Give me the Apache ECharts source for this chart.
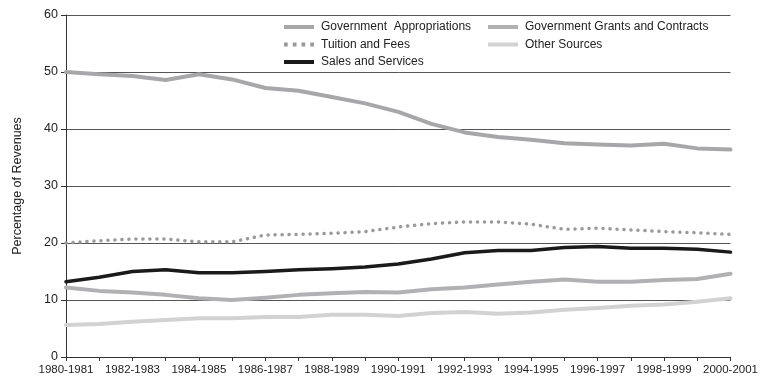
<!DOCTYPE html>
<html><head><meta charset="utf-8">
<script src="https://cdn.jsdelivr.net/npm/echarts@6/dist/echarts.min.js"></script>
<style>html,body{margin:0;padding:0;background:#fff}#c{width:761px;height:380px}</style>
</head><body><div id="c"></div>
<script>
const categories = ["1980-1981","1981-1982","1982-1983","1983-1984","1984-1985","1985-1986","1986-1987","1987-1988","1988-1989","1989-1990","1990-1991","1991-1992","1992-1993","1993-1994","1994-1995","1995-1996","1996-1997","1997-1998","1998-1999","1999-2000","2000-2001"];
const govAppropriations = [50.0,49.6,49.3,48.6,49.6,48.7,47.2,46.7,45.6,44.5,43.0,40.9,39.4,38.6,38.1,37.5,37.3,37.1,37.4,36.6,36.4];
const tuitionFees = [20.0,20.4,20.7,20.7,20.2,20.2,21.4,21.5,21.7,22.0,22.8,23.4,23.7,23.7,23.3,22.4,22.6,22.3,22.0,21.8,21.5];
const salesServices = [13.2,14.0,15.0,15.3,14.8,14.8,15.0,15.3,15.5,15.8,16.3,17.2,18.3,18.7,18.7,19.2,19.4,19.1,19.1,18.9,18.4];
const govGrants = [12.2,11.6,11.3,10.9,10.3,10.0,10.4,10.9,11.2,11.4,11.3,11.9,12.2,12.7,13.2,13.6,13.2,13.2,13.5,13.7,14.6];
const otherSources = [5.6,5.8,6.2,6.5,6.8,6.8,7.0,7.0,7.4,7.4,7.2,7.7,7.9,7.6,7.8,8.3,8.6,9.0,9.2,9.7,10.3];
const yTicks = [0,10,20,30,40,50,60];

const FONT = '"Liberation Sans", Arial, sans-serif';
const names = {
  app: "Government  Appropriations",
  grants: "Government Grants and Contracts",
  tuition: "Tuition and Fees",
  other: "Other Sources",
  sales: "Sales and Services"
};
const BAR = 'rect';
const DOTS = 'path://M0,0h3v3h-3zM7,0h3v3h-3zM14,0h3v3h-3zM21,0h3v3h-3z';
function line(name, data, color, width, extra) {
  return {
    name, type: 'line', data, symbol: 'none', smooth: false,
    lineStyle: Object.assign({ color, width, cap: 'round', join: 'round' }, extra || {}),
    itemStyle: { color }, emphasis: { disabled: true }
  };
}
const legendText = { fontFamily: FONT, fontSize: 12, color: '#222', padding: [0, 0, 0, 2] };
const chart = echarts.init(document.getElementById('c'), null, { renderer: 'canvas' });
chart.setOption({
  backgroundColor: '#ffffff',
  animation: false,
  textStyle: { fontFamily: FONT },
  grid: { left: 66, right: 26, top: 15, bottom: 23, containLabel: false },
  legend: [
    { data: [
        { name: names.app, icon: BAR, itemStyle: { color: '#a7a7a9' } },
        { name: names.tuition, icon: DOTS, itemStyle: { color: '#9a9a9c' } },
        { name: names.sales, icon: BAR, itemStyle: { color: '#1a1a1a' } }
      ], orient: 'vertical', left: 279, top: 16, symbolKeepAspect: false,
      itemWidth: 30, itemHeight: 4, itemGap: 5.5, selectedMode: false, textStyle: legendText },
    { data: [
        { name: names.grants, icon: BAR, itemStyle: { color: '#b1b1b3' } },
        { name: names.other, icon: BAR, itemStyle: { color: '#d2d2d2' } }
      ], orient: 'vertical', left: 483, top: 16, symbolKeepAspect: false,
      itemWidth: 30, itemHeight: 4, itemGap: 5.5, selectedMode: false, textStyle: legendText }
  ],
  xAxis: {
    type: 'category', data: categories, boundaryGap: false,
    axisLine: { lineStyle: { color: '#333', width: 1 } },
    axisTick: { show: true, interval: 0, length: 4, lineStyle: { color: '#333' } },
    axisLabel: { interval: 1, color: '#222', fontSize: 11.5, fontFamily: FONT, margin: 7, showMaxLabel: true },
    splitLine: { show: false }
  },
  yAxis: {
    type: 'value', min: yTicks[0], max: yTicks[yTicks.length - 1], interval: 10,
    name: 'Percentage of Revenues', nameLocation: 'middle', nameGap: 42, nameRotate: 90,
    nameTextStyle: { fontFamily: FONT, fontSize: 12.5, color: '#222' },
    axisLine: { show: true, lineStyle: { color: '#333', width: 1 } },
    axisTick: { show: true, length: 5, lineStyle: { color: '#333' } },
    axisLabel: { color: '#222', fontSize: 12.5, fontFamily: FONT, margin: 8 },
    splitLine: { show: true, lineStyle: { color: '#555', width: 1 } }
  },
  series: [
    line(names.app, govAppropriations, '#a7a7a9', 4),
    line(names.grants, govGrants, '#b1b1b3', 4),
    line(names.other, otherSources, '#d2d2d2', 4),
    line(names.tuition, tuitionFees, '#9a9a9c', 3.5, { type: [0.1, 6.9], cap: 'round' }),
    line(names.sales, salesServices, '#1a1a1a', 3.5)
  ]
});
</script></body></html>
